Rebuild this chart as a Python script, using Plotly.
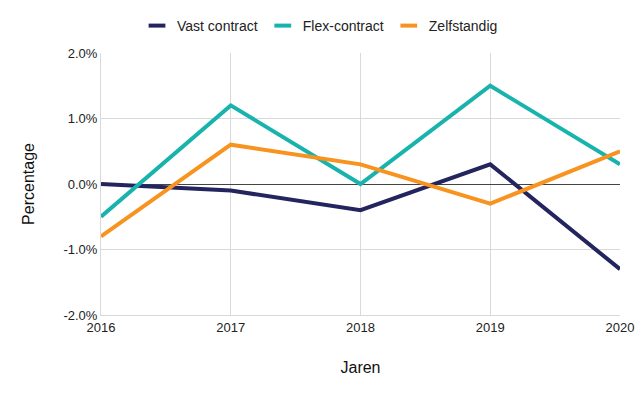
import plotly.graph_objects as go

years = [2016, 2017, 2018, 2019, 2020]
vast = [0.0, -0.1, -0.4, 0.3, -1.3]
flex = [-0.5, 1.2, 0.0, 1.5, 0.3]
zelf = [-0.8, 0.6, 0.3, -0.3, 0.5]
names = ["Vast contract", "Flex-contract", "Zelfstandig"]
colors = ["#24245e", "#19b3ad", "#f7931e"]
series = [vast, flex, zelf]

fig = go.Figure()
for name, vals, col in zip(names, series, colors):
    fig.add_trace(go.Scatter(x=years, y=[v / 100 for v in vals], mode="lines", name=name,
                             line=dict(color=col, width=4), showlegend=False))
for name, col in zip(names, colors):
    fig.add_trace(go.Scatter(x=[None], y=[None], mode="markers", name=name,
                             marker=dict(symbol="line-ew-open", size=12, color=col,
                                         line=dict(width=4, color=col))))

fig.update_layout(
    width=640, height=396,
    margin=dict(l=101, r=20, t=53, b=81),
    plot_bgcolor="white", paper_bgcolor="white",
    font=dict(family="Liberation Sans, Arial, sans-serif", color="#222"),
    legend=dict(orientation="h", x=0.5, xanchor="center", xref="container",
                y=1 - 26 / 396, yanchor="middle", yref="container",
                font=dict(size=14, color="#222"), itemwidth=30, tracegroupgap=0),
    xaxis=dict(range=[2016, 2020], tickvals=years, ticktext=[str(y) for y in years],
               showgrid=True, gridcolor="#d9d9d9", gridwidth=1, zeroline=False,
               showline=True, linecolor="#d9d9d9", mirror=False, automargin=False,
               tickfont=dict(size=13, color="#222"), ticks="",
               title=dict(text="Jaren", font=dict(size=16, color="#111"), standoff=28)),
    yaxis=dict(range=[-0.02, 0.02], tickvals=[-0.02, -0.01, 0, 0.01, 0.02],
               ticktext=["-2.0%", "-1.0%", "0.0%", "1.0%", "2.0%"],
               showgrid=True, gridcolor="#d9d9d9", gridwidth=1,
               zeroline=True, zerolinecolor="#444", zerolinewidth=1,
               showline=True, linecolor="#d9d9d9", automargin=False,
               tickfont=dict(size=13, color="#222"), ticks="",
               title=dict(text="Percentage", font=dict(size=16, color="#111"), standoff=24)),
)
fig.write_html("out.html", config={"displayModeBar": False},
               post_script="document.body.style.margin='0px';")
